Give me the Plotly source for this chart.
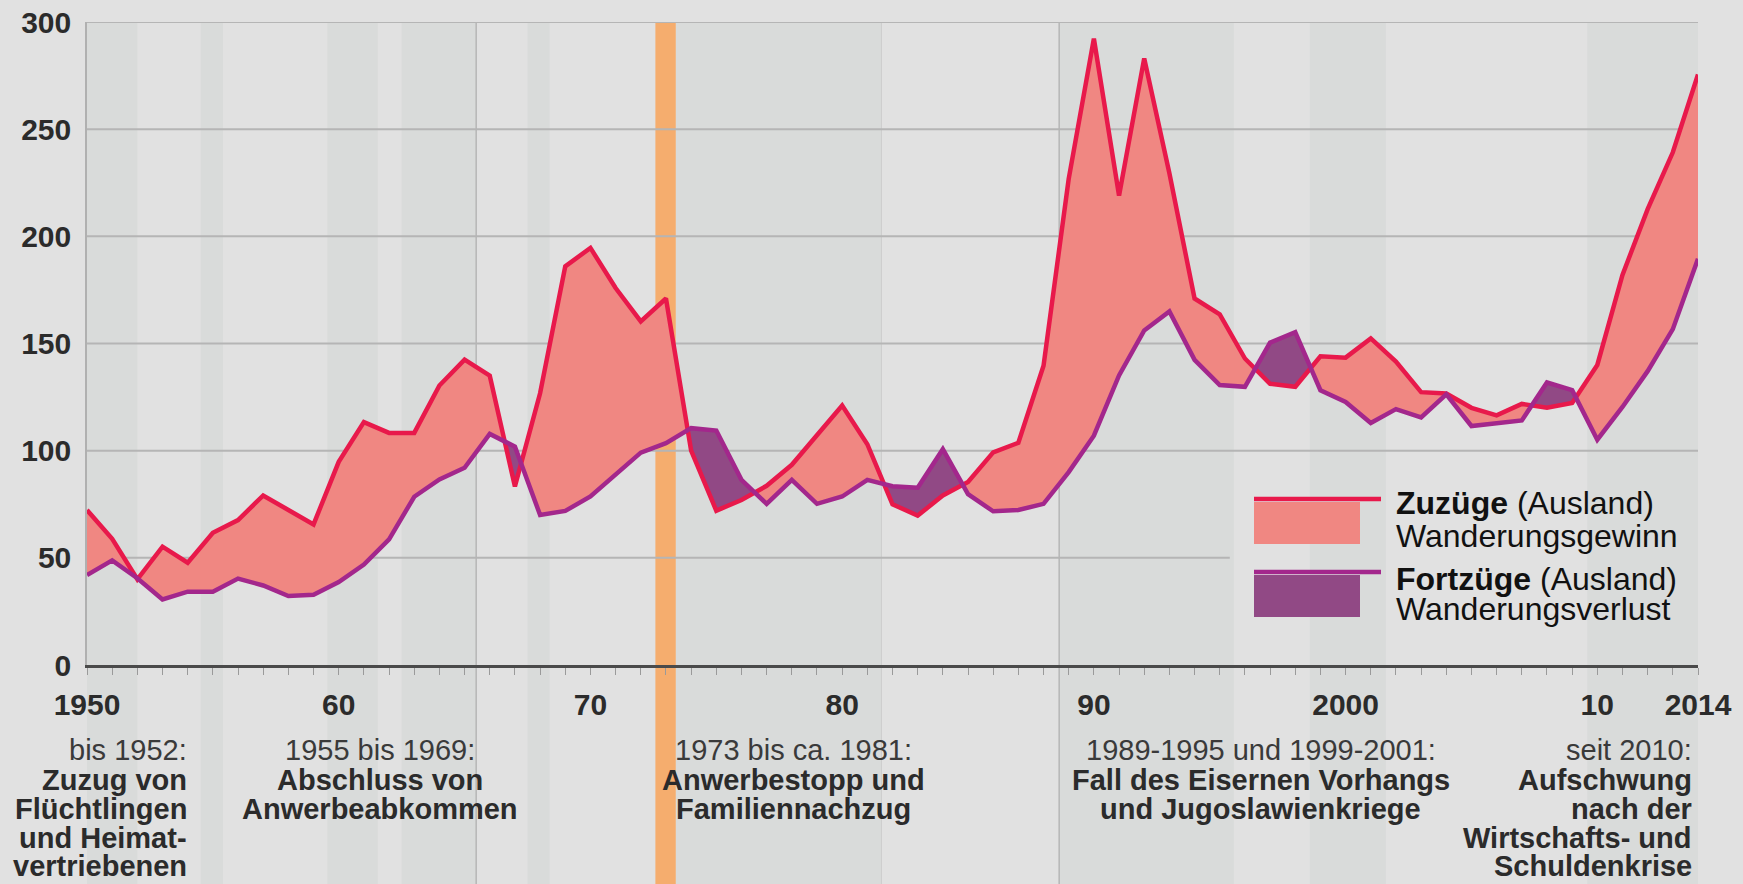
import plotly.graph_objects as go

# ---------------- data ----------------
years = list(range(1950, 2015))
zuzuege = [72.3, 58.9, 40.0, 55.2, 47.7, 61.7, 67.6, 79.1, 72.3, 65.6,
           94.8, 113.3, 108.3, 108.3, 130.4, 142.5, 135.0, 83.3, 126.8, 186.0,
           194.6, 175.9, 160.3, 171.0, 100.0, 72.0, 77.0, 83.6, 93.4, 107.4,
           121.1, 103.0, 75.0, 69.7, 79.1, 85.4, 99.2, 103.7, 139.6, 226.8,
           292.2, 219.0, 283.0, 229.4, 171.0, 163.6, 143.0, 131.2, 129.8, 144.0,
           143.4, 152.4, 141.6, 127.3, 126.7, 120.0, 116.5, 121.8, 120.0, 122.3,
           140.0, 182.0, 212.7, 239.2, 275.5]
fortzuege = [42.0, 48.8, 40.5, 30.6, 34.2, 34.2, 40.3, 37.1, 32.2, 32.8,
             38.7, 46.9, 58.6, 78.5, 86.6, 92.0, 107.8, 101.9, 70.0, 71.9,
             78.6, 89.2, 99.1, 103.5, 110.5, 109.4, 86.4, 75.2, 86.4, 75.2,
             78.6, 86.4, 83.4, 82.7, 100.7, 79.7, 71.7, 72.3, 75.2, 90.0,
             107.0, 135.1, 156.1, 165.0, 142.4, 130.6, 129.8, 150.4, 155.3, 128.2,
             122.7, 112.9, 119.4, 115.5, 126.3, 111.5, 112.9, 114.1, 131.8, 128.2,
             105.1, 120.4, 137.1, 156.7, 189.5]

y_ticks = [0, 50, 100, 150, 200, 250, 300]
x_label_years = [1950, 1960, 1970, 1980, 1990, 2000, 2010, 2014]
x_label_text = ["1950", "60", "70", "80", "90", "2000", "10", "2014"]

# shaded periods (years)
bands = [(1950.0, 1952.0), (1954.52, 1955.4), (1959.55, 1961.55), (1962.5, 1965.46),
         (1967.5, 1968.38), (1973.39, 1981.56), (1988.62, 1995.56),
         (1998.58, 2001.6), (2009.6, 2014.0)]
oil_crisis = (1972.58, 1973.39)
separators = [1965.46, 1988.62]
faint_separators = [1981.56]

ann_groups = [
    (1954.04, "right", ["bis 1952:", "Zuzug von", "Flüchtlingen", "und Heimat-", "vertriebenen"]),
    (1961.63, "center", ["1955 bis 1969:", "Abschluss von", "Anwerbeabkommen"]),
    (1978.08, "center", ["1973 bis ca. 1981:", "Anwerbestopp und", "Familiennachzug"]),
    (1996.63, "center", ["1989-1995 und 1999-2001:", "Fall des Eisernen Vorhangs", "und Jugoslawienkriege"]),
    (2013.83, "right", ["seit 2010:", "Aufschwung", "nach der", "Wirtschafts- und", "Schuldenkrise"]),
]

legend_items = [
    ("<b>Zuzüge</b> (Ausland)", "Wanderungsgewinn"),
    ("<b>Fortzüge</b> (Ausland)", "Wanderungsverlust"),
]

# ---------------- colours / layout ----------------
W, H = 1743, 884
L, R, T, B = 87, 45, 22, 219
PW, PH = W - L - R, H - T - B

BG = "#e1e1e1"
BAND = "#d9dbda"
GRID = "#b5b5b5"
RED = "#e8194b"
PINK = "#f08782"
PURPLE = "#a3278c"
PURPLE_FILL = "#914985"
ORANGE = "#f5ad6e"
TXT = "#2b2b2b"
FONT = "Liberation Sans, Arial, Helvetica, sans-serif"


def px_x(X):
    return (X - L) / PW


def px_y(Y):
    return (T + PH - Y) / PH


# ---------------- envelope with crossings ----------------
xs, ra, pa = [], [], []
for i in range(len(years)):
    xs.append(years[i]); ra.append(zuzuege[i]); pa.append(fortzuege[i])
    if i < len(years) - 1:
        d0 = zuzuege[i] - fortzuege[i]
        d1 = zuzuege[i + 1] - fortzuege[i + 1]
        if d0 * d1 < 0:
            t = d0 / (d0 - d1)
            yc = zuzuege[i] + t * (zuzuege[i + 1] - zuzuege[i])
            xs.append(years[i] + t); ra.append(yc); pa.append(yc)
lower = [min(a, b) for a, b in zip(ra, pa)]

fig = go.Figure()
fig.add_trace(go.Scatter(x=xs, y=lower, mode="lines", line=dict(width=0, color=PINK),
                         hoverinfo="skip", showlegend=False))
fig.add_trace(go.Scatter(x=xs, y=ra, mode="lines", line=dict(width=0, color=PINK),
                         fill="tonexty", fillcolor=PINK, hoverinfo="skip", showlegend=False))
fig.add_trace(go.Scatter(x=xs, y=lower, mode="lines", line=dict(width=0, color=PURPLE_FILL),
                         hoverinfo="skip", showlegend=False))
fig.add_trace(go.Scatter(x=xs, y=pa, mode="lines", line=dict(width=0, color=PURPLE_FILL),
                         fill="tonexty", fillcolor=PURPLE_FILL, hoverinfo="skip", showlegend=False))
fig.add_trace(go.Scatter(x=years, y=zuzuege, mode="lines", line=dict(width=4.5, color=RED),
                         name="Zuzüge", hoverinfo="x+y", showlegend=False))
fig.add_trace(go.Scatter(x=years, y=fortzuege, mode="lines", line=dict(width=4.5, color=PURPLE),
                         name="Fortzüge", hoverinfo="x+y", showlegend=False))

shapes = []
ybot = px_y(H)
for a, b in bands:
    shapes.append(dict(type="rect", xref="x", yref="paper", x0=a, x1=b, y0=ybot, y1=1,
                       fillcolor=BAND, line=dict(width=0), layer="below"))
shapes.append(dict(type="rect", xref="x", yref="paper", x0=oil_crisis[0], x1=oil_crisis[1],
                   y0=ybot, y1=1, fillcolor=ORANGE, line=dict(width=0), layer="below"))
for s in separators:
    shapes.append(dict(type="line", xref="x", yref="paper", x0=s, x1=s, y0=ybot, y1=1,
                       line=dict(color="#b0b0b0", width=1.3), layer="below"))
for s in faint_separators:
    shapes.append(dict(type="line", xref="x", yref="paper", x0=s, x1=s, y0=ybot, y1=1,
                       line=dict(color="#cdcdcd", width=1), layer="below"))
for v in y_ticks[1:]:
    x1 = 1995.4 if v == 50 else 2014
    shapes.append(dict(type="line", xref="x", yref="y", x0=1950, x1=x1, y0=v, y1=v,
                       line=dict(color=GRID, width=2), layer="below"))

# legend swatches
leg_rows = [(499, 502, 544, RED, PINK), (572, 575, 617, PURPLE, PURPLE_FILL)]
for ly, r0, r1, lc, fc in leg_rows:
    shapes.append(dict(type="rect", xref="paper", yref="paper", x0=px_x(1254), x1=px_x(1360),
                       y0=px_y(r1), y1=px_y(r0), fillcolor=fc, line=dict(width=0), layer="above"))
    shapes.append(dict(type="line", xref="paper", yref="paper", x0=px_x(1254), x1=px_x(1381),
                       y0=px_y(ly), y1=px_y(ly), line=dict(color=lc, width=4.5), layer="above"))

annotations = []
line_y = [750, 779.5, 809, 838, 866]
for xpos, anchor, lines in ann_groups:
    for k, txt in enumerate(lines):
        annotations.append(dict(
            x=xpos, xref="x", y=px_y(line_y[k]), yref="paper",
            text=txt if k == 0 else f"<b>{txt}</b>",
            showarrow=False, xanchor=anchor, yanchor="middle", align=anchor,
            font=dict(family=FONT, size=29, color="#3a3a3a" if k == 0 else TXT)))

leg_text_y = [(503, 536), (579, 609)]
for (t1, t2), (y1, y2) in zip(legend_items, leg_text_y):
    annotations.append(dict(x=px_x(1394), xref="paper", y=px_y(y1), yref="paper", text=t1,
                            showarrow=False, xanchor="left", yanchor="middle",
                            font=dict(family=FONT, size=32, color="#111111")))
    annotations.append(dict(x=px_x(1394), xref="paper", y=px_y(y2), yref="paper", text=t2,
                            showarrow=False, xanchor="left", yanchor="middle",
                            font=dict(family=FONT, size=32, color="#111111")))

fig.update_layout(
    width=W, height=H,
    margin=dict(l=L, r=R, t=T, b=B, autoexpand=False),
    paper_bgcolor=BG, plot_bgcolor=BG,
    shapes=shapes, annotations=annotations,
    showlegend=False,
    xaxis=dict(range=[1950, 2014], showgrid=False, zeroline=False, automargin=False,
               tickvals=years,
               ticktext=[x_label_text[x_label_years.index(y)] if y in x_label_years else "" for y in years],
               ticks="outside", ticklen=7, tickwidth=1, tickcolor="#9a9a9a",
               showline=True, linecolor="#4a4a4a", linewidth=2.5,
               tickfont=dict(family=FONT, size=30, color=TXT, weight="bold"),
               ticklabelstandoff=4),
    yaxis=dict(range=[0, 300], showgrid=False, zeroline=False, tickvals=y_ticks, automargin=False,
               ticks="", showline=True, linecolor="#b0b0b0", linewidth=1.5,
               tickfont=dict(family=FONT, size=30, color=TXT, weight="bold"),
               ticklabelstandoff=8),
)

fig.write_html(
    "out.html",
    config={"displayModeBar": False},
    post_script="document.body.style.margin='0';document.body.style.background='%s';" % BG,
)
